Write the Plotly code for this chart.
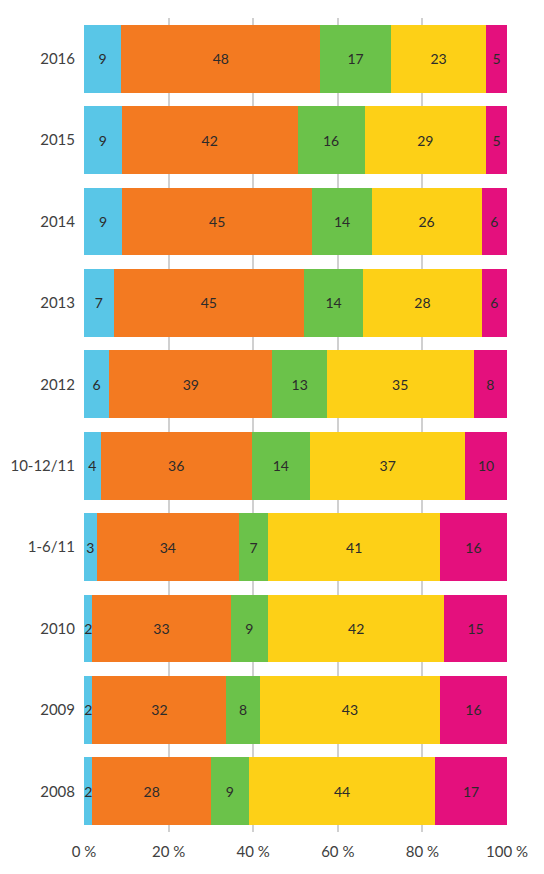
import plotly.graph_objects as go

categories = ["2016", "2015", "2014", "2013", "2012", "10-12/11", "1-6/11", "2010", "2009", "2008"]
s1 = [9, 9, 9, 7, 6, 4, 3, 2, 2, 2]
s2 = [48, 42, 45, 45, 39, 36, 34, 33, 32, 28]
s3 = [17, 16, 14, 14, 13, 14, 7, 9, 8, 9]
s4 = [23, 29, 26, 28, 35, 37, 41, 42, 43, 44]
s5 = [5, 5, 6, 6, 8, 10, 16, 15, 16, 17]
tick_vals = [0, 20, 40, 60, 80, 100]
tick_text = ["0 %", "20 %", "40 %", "60 %", "80 %", "100 %"]

series = [s1, s2, s3, s4, s5]
colors = ["#59C6E7", "#F37A21", "#6BC24A", "#FDD017", "#E4107D"]

fig = go.Figure()
for vals, col in zip(series, colors):
    fig.add_trace(go.Bar(
        y=categories, x=vals, orientation="h",
        marker=dict(color=col, line=dict(width=0)),
        text=vals, texttemplate="%{text}", textposition="inside",
        insidetextanchor="middle", textangle=0,
        textfont=dict(color="#2b2b2b", size=14, family="Lato"),
        showlegend=False,
    ))

fig.update_layout(
    barmode="stack", barnorm="percent", bargap=0.165,
    width=544, height=874,
    margin=dict(l=76, r=45, t=10, b=50, autoexpand=False),
    plot_bgcolor="white", paper_bgcolor="white",
    font=dict(family="Lato", size=15, color="#404040"),
    uniformtext=dict(minsize=14, mode="show"),
)
fig.update_xaxes(
    range=[0, 100], tickvals=tick_vals, ticktext=tick_text,
    showgrid=True, gridcolor="#d0d0d0", gridwidth=1.5, zeroline=False,
    ticks="", ticklabelstandoff=9, automargin=False,
    tickfont=dict(size=15, color="#404040"), layer="below traces",
)
fig.update_yaxes(
    autorange="reversed", showgrid=False, ticks="", automargin=False,
    ticklabelstandoff=8, tickfont=dict(size=15, color="#404040"),
)
fig.write_html("out.html")
